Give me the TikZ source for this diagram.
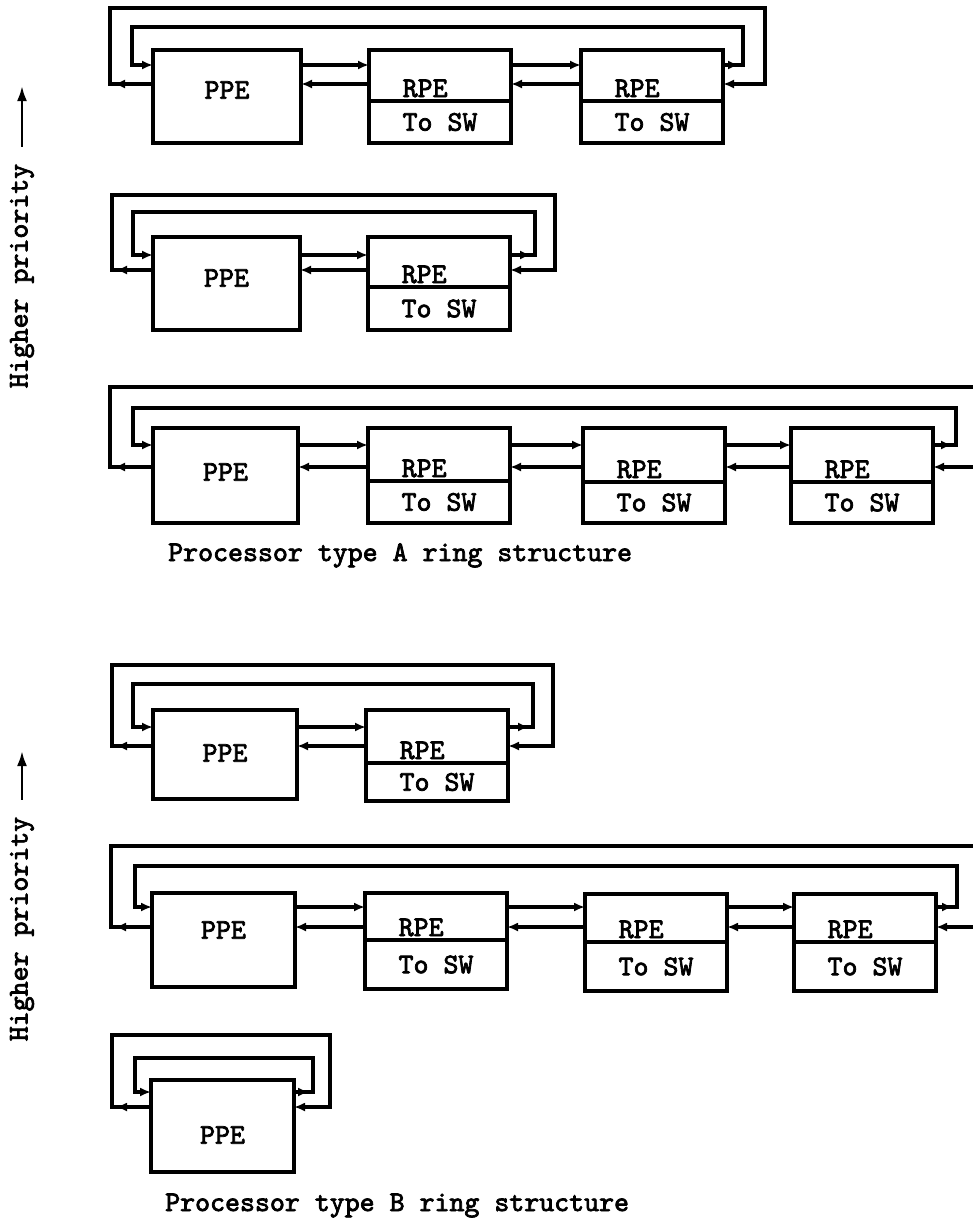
\documentclass[tikz,border=0pt]{standalone}
\usepackage{fontspec}
\newfontfamily\twfont{lmmono10-regular}[Extension=.otf, FakeBold=2.6]
\usetikzlibrary{arrows.meta}
\tikzset{
  ln/.style={line width=3.2pt},
  tip/.style={-{Latex[length=11pt,width=9pt]}},
  bigtip/.style={-{Latex[length=15pt,width=10pt]}},
  boxst/.style={draw, line width=3.2pt, inner sep=0pt, outer sep=0pt},
  txt/.style={inner sep=0pt, font=\fontsize{28.5}{32}\selectfont\twfont},
}
% name, x, top, width, height, text y
\newcommand{\ppeunit}[6]{%
  \node[boxst, minimum width=#4, minimum height=#5, anchor=north west] (#1) at (#2,#3) {};
  \node[txt] (#1t) at (#1.center |- 0,#6) {PPE};
}
% name, x, top, divider, bottom
\newcommand{\rpeunit}[5]{%
  \node[boxst, minimum width=142, minimum height={#4-#3}, anchor=north west] (#1) at (#2,#3) {};
  \node[boxst, minimum width=142, minimum height={#5-#4}, anchor=north west] (#1s) at (#2,#4) {};
  \node[txt] (#1w) at (#1s.center) {To SW};
  \node[txt, anchor=base west] (#1r) at ([xshift=-37.5pt, yshift=4pt]#1s.north) {RPE};
}
% left node, right node, upper y, lower y
\newcommand{\links}[4]{%
  \draw[ln, tip] (#1.east |- 0,#3) -- (#2.west |- 0,#3);
  \draw[ln, tip] (#2.west |- 0,#4) -- (#1.east |- 0,#4);
}
\begin{document}
\begin{tikzpicture}[x=1pt, y=-1pt]
\fill[white] (0,0) rectangle (973,1226);
\useasboundingbox (0,0) rectangle (973,1226);

% ---------- Higher priority labels ----------
\node[txt, rotate=90] (hp1) at (22,276) {Higher priority};
\coordinate (hp1a) at (22,86);
\draw[line width=2.6pt, bigtip] ([yshift=17pt]hp1.east) -- (hp1a);
\node[txt, rotate=90] (hp2) at (22,929) {Higher priority};
\coordinate (hp2a) at (22,751);
\draw[line width=2.6pt, bigtip] ([yshift=17pt]hp2.east) -- (hp2a);

% ---------- A1 ----------
\ppeunit{p1}{153}{50}{148}{93}{90}
\rpeunit{r11}{369}{50}{101}{143}
\rpeunit{r12}{581}{50}{101}{143}
\links{p1}{r11}{65}{84}
\links{r11}{r12}{65}{84}
\coordinate (o1a) at (110,8);
\coordinate (o1b) at (765,84);
\coordinate (i1a) at (132,65);
\coordinate (i1b) at (743,27);
\draw[ln, tip] (p1.west |- 0,84) -| (o1a) -| (o1b) -- (r12.east |- 0,84);
\draw[ln, tip, shorten >=4pt] (p1.west |- 0,84) -- (o1a |- 0,84);
\draw[ln, tip] (r12.east |- 0,65) -| (i1b) -| (i1a) -- (p1.west |- 0,65);
\draw[ln, tip, shorten >=4pt] (r12.east |- 0,65) -- (i1b |- 0,65);

% ---------- A2 ----------
\ppeunit{p2}{153}{237}{147}{93}{278}
\rpeunit{r21}{368}{237}{287}{330}
\links{p2}{r21}{255}{270}
\coordinate (o2a) at (112,195);
\coordinate (o2b) at (555,270);
\coordinate (i2a) at (133,255);
\coordinate (i2b) at (535,212);
\draw[ln, tip] (p2.west |- 0,270) -| (o2a) -| (o2b) -- (r21.east |- 0,270);
\draw[ln, tip, shorten >=4pt] (p2.west |- 0,270) -- (o2a |- 0,270);
\draw[ln, tip] (r21.east |- 0,255) -| (i2b) -| (i2a) -- (p2.west |- 0,255);
\draw[ln, tip, shorten >=4pt] (r21.east |- 0,255) -- (i2b |- 0,255);

% ---------- A3 ----------
\ppeunit{p3}{153}{428}{145}{95}{472}
\rpeunit{r31}{368}{428}{481}{523}
\rpeunit{r32}{583}{428}{482}{523}
\rpeunit{r33}{791}{428}{482}{523}
\links{p3}{r31}{445}{467}
\links{r31}{r32}{445}{467}
\links{r32}{r33}{445}{467}
\coordinate (o3a) at (110,387);
\coordinate (o3e) at (975,387);
\coordinate (o3f) at (975,467);
\coordinate (i3a) at (133,445);
\coordinate (i3b) at (956,408);
\draw[ln] (p3.west |- 0,467) -| (o3a) -- (o3e);
\draw[ln, tip, shorten >=4pt] (p3.west |- 0,467) -- (o3a |- 0,467);
\draw[ln, tip] (o3f) -- (r33.east |- 0,467);
\draw[ln, tip] (r33.east |- 0,445) -| (i3b) -| (i3a) -- (p3.west |- 0,445);
\draw[ln, tip, shorten >=4pt] (r33.east |- 0,445) -- (i3b |- 0,445);

\node[txt, anchor=base west] (capA) at (168,561) {Processor type A ring structure};

% ---------- B1 ----------
\ppeunit{p4}{153}{710}{144}{89}{753}
\rpeunit{r41}{366}{710}{763}{801}
\links{p4}{r41}{727}{746}
\coordinate (o4a) at (112,665);
\coordinate (o4b) at (553,746);
\coordinate (i4a) at (133,727);
\coordinate (i4b) at (533,684);
\draw[ln, tip] (p4.west |- 0,746) -| (o4a) -| (o4b) -- (r41.east |- 0,746);
\draw[ln, tip, shorten >=4pt] (p4.west |- 0,746) -- (o4a |- 0,746);
\draw[ln, tip] (r41.east |- 0,727) -| (i4b) -| (i4a) -- (p4.west |- 0,727);
\draw[ln, tip, shorten >=4pt] (r41.east |- 0,727) -- (i4b |- 0,727);

% ---------- B2 ----------
\ppeunit{p5}{152}{893}{143}{94}{930}
\rpeunit{r51}{365}{893}{940}{989}
\rpeunit{r52}{585}{894}{942}{991}
\rpeunit{r53}{794}{894}{942}{991}
\links{p5}{r51}{907}{927}
\links{r51}{r52}{907}{927}
\links{r52}{r53}{907}{927}
\coordinate (o5a) at (111,846);
\coordinate (o5e) at (975,846);
\coordinate (o5f) at (975,927);
\coordinate (i5a) at (135,907);
\coordinate (i5b) at (957,866);
\draw[ln] (p5.west |- 0,927) -| (o5a) -- (o5e);
\draw[ln, tip, shorten >=4pt] (p5.west |- 0,927) -- (o5a |- 0,927);
\draw[ln, tip] (o5f) -- (r53.east |- 0,927);
\draw[ln, tip] (r53.east |- 0,907) -| (i5b) -| (i5a) -- (p5.west |- 0,907);
\draw[ln, tip, shorten >=4pt] (r53.east |- 0,907) -- (i5b |- 0,907);

% ---------- B3 ----------
\ppeunit{p6}{151}{1080}{143}{92}{1135}
\coordinate (o6a) at (112,1035);
\coordinate (o6b) at (330,1107);
\coordinate (i6a) at (135,1092);
\coordinate (i6b) at (313,1058);
\draw[ln, tip] (p6.west |- 0,1107) -| (o6a) -| (o6b) -- (p6.east |- 0,1107);
\draw[ln, tip, shorten >=4pt] (p6.west |- 0,1107) -- (o6a |- 0,1107);
\draw[ln, tip] (p6.east |- 0,1092) -| (i6b) -| (i6a) -- (p6.west |- 0,1092);
\draw[ln, tip, shorten >=4pt] (p6.east |- 0,1092) -- (i6b |- 0,1092);

\node[txt, anchor=base west] (capB) at (165,1211) {Processor type B ring structure};
\end{tikzpicture}
\end{document}
